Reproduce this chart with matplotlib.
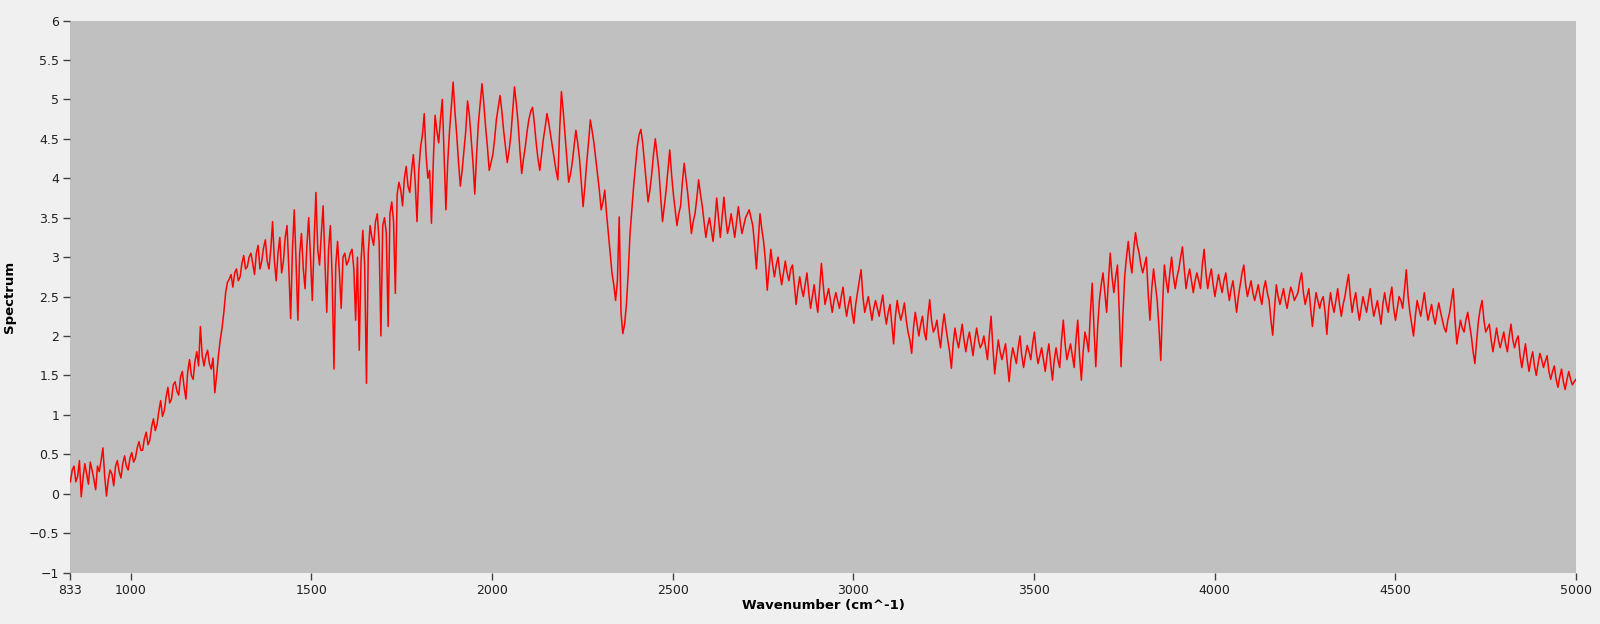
import numpy as np
import matplotlib
matplotlib.use("Agg")
import matplotlib.pyplot as plt

# spectrum, one value about every 10 cm^-1 from 833 to 5000
spectrum = [
    0.15, 0.35, 0.22, -0.04, 0.38, 0.12, 0.30, 0.05, 0.28, 0.58,
    -0.03, 0.30, 0.10, 0.42, 0.20, 0.48, 0.30, 0.52, 0.45, 0.66,
    0.55, 0.78, 0.68, 0.95, 0.88, 1.18, 1.05, 1.35, 1.20, 1.42,
    1.25, 1.55, 1.20, 1.70, 1.45, 1.80, 2.12, 1.62, 1.82, 1.58,
    1.28, 1.75, 2.10, 2.55, 2.72, 2.62, 2.85, 2.75, 3.02, 2.88,
    3.05, 2.78, 3.15, 2.95, 3.22, 2.85, 3.45, 2.70, 3.25, 2.95,
    3.40, 2.22, 3.60, 2.20, 3.30, 2.60, 3.50, 2.45, 3.82, 2.90,
    3.65, 2.30, 3.40, 1.58, 3.20, 2.35, 3.05, 2.95, 3.10, 2.20,
    1.82, 3.34, 1.40, 3.40, 3.15, 3.55, 2.00, 3.50, 2.12, 3.70,
    2.54, 3.95, 3.65, 4.15, 3.82, 4.30, 3.45, 4.40, 4.82, 4.00,
    3.43, 4.80, 4.45, 5.00, 3.60, 4.60, 5.22, 4.55, 3.90, 4.35,
    4.98, 4.50, 3.80, 4.70, 5.20, 4.65, 4.10, 4.30, 4.75, 5.05,
    4.60, 4.20, 4.55, 5.16, 4.70, 4.06, 4.40, 4.75, 4.90, 4.45,
    4.10, 4.50, 4.82, 4.55, 4.25, 3.98, 5.10, 4.55, 3.95, 4.20,
    4.61, 4.25, 3.64, 4.20, 4.74, 4.45, 4.05, 3.60, 3.85, 3.30,
    2.80, 2.45, 3.51, 2.03, 2.40, 3.30, 3.90, 4.40, 4.62, 4.20,
    3.70, 4.05, 4.50, 4.10, 3.45, 3.85, 4.36, 3.80, 3.40, 3.65,
    4.19, 3.80, 3.30, 3.55, 3.98, 3.65, 3.25, 3.50, 3.20, 3.75,
    3.25, 3.76, 3.30, 3.55, 3.25, 3.64, 3.30, 3.50, 3.60, 3.40,
    2.85, 3.55, 3.20, 2.58, 3.10, 2.75, 3.00, 2.65, 2.95, 2.70,
    2.90, 2.40, 2.75, 2.50, 2.80, 2.35, 2.65, 2.30, 2.92, 2.40,
    2.60, 2.30, 2.55, 2.35, 2.62, 2.25, 2.50, 2.16, 2.55, 2.84,
    2.30, 2.50, 2.20, 2.45, 2.25, 2.52, 2.15, 2.40, 1.90, 2.45,
    2.20, 2.42, 2.05, 1.78, 2.30, 2.00, 2.25, 1.95, 2.46, 2.05,
    2.20, 1.85, 2.28, 1.95, 1.59, 2.10, 1.85, 2.15, 1.80, 2.05,
    1.75, 2.10, 1.85, 2.00, 1.70, 2.25, 1.52, 1.95, 1.70, 1.90,
    1.42, 1.85, 1.65, 2.00, 1.60, 1.88, 1.70, 2.05, 1.65, 1.85,
    1.55, 1.90, 1.44, 1.85, 1.60, 2.20, 1.70, 1.90, 1.60, 2.20,
    1.44, 2.05, 1.80, 2.67, 1.61, 2.45, 2.80, 2.30, 3.05, 2.55,
    2.90, 1.61, 2.75, 3.20, 2.80, 3.31, 3.05, 2.80, 3.00, 2.20,
    2.85, 2.45, 1.69, 2.90, 2.55, 3.00, 2.60, 2.85, 3.13, 2.60,
    2.85, 2.55, 2.80, 2.60, 3.10, 2.60, 2.85, 2.50, 2.78, 2.55,
    2.80, 2.45, 2.70, 2.30, 2.65, 2.90, 2.50, 2.70, 2.45, 2.65,
    2.40, 2.70, 2.45, 2.01, 2.65, 2.40, 2.60, 2.35, 2.62, 2.45,
    2.55, 2.80, 2.40, 2.60, 2.12, 2.55, 2.35, 2.50, 2.02, 2.55,
    2.30, 2.60, 2.25, 2.50, 2.78, 2.30, 2.55, 2.20, 2.50, 2.30,
    2.60, 2.25, 2.45, 2.15, 2.55, 2.30, 2.62, 2.20, 2.50, 2.35,
    2.84, 2.30, 2.00, 2.45, 2.25, 2.55, 2.20, 2.40, 2.15, 2.42,
    2.20, 2.05, 2.30, 2.60, 1.90, 2.20, 2.05, 2.30, 2.00, 1.65,
    2.20, 2.45, 2.05, 2.15, 1.80, 2.10, 1.85, 2.05, 1.80, 2.15,
    1.85, 2.00, 1.60, 1.90, 1.55, 1.80, 1.50, 1.78, 1.60, 1.75,
    1.45, 1.62, 1.35, 1.58, 1.32, 1.55, 1.38, 1.45,
]
# readings in between the points above (about 5 cm^-1 further on)
spectrum_mid = [
    0.30, 0.15, 0.42, 0.20, 0.25, 0.40, 0.18, 0.35, 0.42, 0.22,
    0.18, 0.25, 0.35, 0.28, 0.38, 0.35, 0.45, 0.40, 0.58, 0.55,
    0.70, 0.62, 0.85, 0.80, 1.05, 0.98, 1.22, 1.15, 1.38, 1.30,
    1.48, 1.35, 1.55, 1.50, 1.68, 1.62, 1.75, 1.75, 1.65, 1.72,
    1.50, 1.95, 2.30, 2.68, 2.78, 2.80, 2.70, 2.92, 2.85, 3.00,
    2.92, 3.05, 2.85, 3.12, 2.95, 3.10, 2.95, 3.05, 2.80, 3.25,
    2.85, 3.10, 2.95, 3.05, 2.85, 3.15, 3.00, 3.20, 3.10, 3.30,
    2.95, 3.10, 2.75, 2.90, 2.80, 3.00, 2.90, 3.05, 2.85, 3.00,
    2.95, 2.90, 3.05, 3.25, 3.45, 3.20, 3.40, 3.30, 3.55, 3.45,
    3.80, 3.85, 4.00, 3.90, 4.10, 3.95, 4.10, 4.55, 4.30, 4.10,
    4.20, 4.60, 4.75, 4.30, 4.20, 4.90, 4.85, 4.20, 4.10, 4.60,
    4.80, 4.20, 4.30, 4.95, 4.95, 4.40, 4.20, 4.50, 4.90, 4.85,
    4.40, 4.35, 4.85, 4.95, 4.35, 4.25, 4.60, 4.85, 4.70, 4.25,
    4.30, 4.65, 4.70, 4.40, 4.10, 4.60, 4.85, 4.25, 4.05, 4.40,
    4.45, 3.95, 3.90, 4.45, 4.60, 4.25, 3.85, 3.70, 3.55, 3.05,
    2.65, 2.70, 2.30, 2.15, 2.80, 3.60, 4.15, 4.55, 4.45, 3.95,
    3.85, 4.30, 4.30, 3.75, 3.65, 4.10, 4.05, 3.60, 3.55, 3.95,
    4.00, 3.55, 3.45, 3.75, 3.80, 3.45, 3.40, 3.35, 3.45, 3.50,
    3.50, 3.50, 3.40, 3.40, 3.45, 3.45, 3.40, 3.55, 3.50, 3.15,
    3.20, 3.35, 2.95, 2.85, 2.90, 2.90, 2.80, 2.80, 2.80, 2.85,
    2.65, 2.60, 2.60, 2.65, 2.55, 2.50, 2.45, 2.60, 2.65, 2.50,
    2.45, 2.45, 2.45, 2.50, 2.40, 2.40, 2.30, 2.40, 2.70, 2.50,
    2.40, 2.35, 2.35, 2.35, 2.40, 2.30, 2.30, 2.15, 2.25, 2.30,
    2.30, 2.20, 1.95, 2.10, 2.15, 2.15, 2.05, 2.25, 2.20, 2.10,
    2.00, 2.10, 2.10, 1.80, 1.90, 1.95, 2.00, 1.95, 1.95, 1.90,
    1.95, 1.95, 1.90, 1.85, 2.00, 1.85, 1.75, 1.80, 1.80, 1.65,
    1.70, 1.75, 1.85, 1.75, 1.75, 1.80, 1.90, 1.80, 1.75, 1.70,
    1.75, 1.65, 1.70, 1.70, 1.95, 1.90, 1.80, 1.75, 1.95, 1.75,
    1.80, 1.95, 2.30, 2.10, 2.10, 2.65, 2.55, 2.70, 2.75, 2.75,
    2.30, 2.25, 3.00, 2.95, 3.10, 3.15, 2.90, 2.90, 2.55, 2.60,
    2.65, 2.10, 2.40, 2.70, 2.80, 2.75, 2.75, 3.00, 2.85, 2.75,
    2.70, 2.70, 2.70, 2.90, 2.80, 2.75, 2.65, 2.65, 2.65, 2.70,
    2.60, 2.60, 2.50, 2.50, 2.80, 2.65, 2.60, 2.55, 2.55, 2.50,
    2.60, 2.55, 2.20, 2.35, 2.50, 2.50, 2.45, 2.50, 2.55, 2.50,
    2.70, 2.55, 2.50, 2.35, 2.35, 2.45, 2.45, 2.30, 2.35, 2.40,
    2.45, 2.40, 2.40, 2.65, 2.50, 2.45, 2.35, 2.35, 2.40, 2.45,
    2.40, 2.35, 2.30, 2.40, 2.40, 2.50, 2.35, 2.35, 2.45, 2.60,
    2.50, 2.15, 2.25, 2.35, 2.40, 2.35, 2.30, 2.25, 2.30, 2.30,
    2.10, 2.20, 2.45, 2.20, 2.05, 2.10, 2.20, 2.15, 1.80, 1.95,
    2.35, 2.20, 2.10, 1.95, 1.95, 1.95, 1.95, 1.90, 2.00, 1.95,
    1.95, 1.75, 1.75, 1.70, 1.70, 1.62, 1.65, 1.70, 1.68, 1.55,
    1.55, 1.45, 1.48, 1.42, 1.45, 1.45, 1.42,
]
wn_start = 833
wn_end = 5000
xticks = [833, 1000, 1500, 2000, 2500, 3000, 3500, 4000, 4500, 5000]
yticks = [-1, -0.5, 0, 0.5, 1, 1.5, 2, 2.5, 3, 3.5, 4, 4.5, 5, 5.5, 6]
ylabels = ["\u22121", "\u22120.5", "0", "0.5", "1", "1.5", "2", "2.5",
           "3", "3.5", "4", "4.5", "5", "5.5", "6"]

# put the in-between readings between the main ones
values = np.empty(len(spectrum) + len(spectrum_mid))
values[0::2] = spectrum
values[1::2] = spectrum_mid
wavenumber = np.linspace(wn_start, wn_end, len(values))

plt.rcParams['font.family'] = ['Liberation Sans Narrow', 'DejaVu Sans']

fig = plt.figure(figsize=(16, 6.24), dpi=100, facecolor="#f0f0f0")
ax = fig.add_axes([0.044, 0.0825, 0.941, 0.8845])
ax.set_facecolor("#c0c0c0")
ax.plot(wavenumber, values, color="#ff0000", linewidth=1.1)

ax.set_xlim(wn_start, wn_end)
ax.set_ylim(-1, 6)
ax.set_xticks(xticks)
ax.set_xticklabels([str(t) for t in xticks])
ax.set_yticks(yticks)
ax.set_yticklabels(ylabels)
for s in ax.spines.values():
    s.set_visible(False)
ax.tick_params(direction="out", length=5, width=1, color="#404040",
               labelsize=9, labelcolor="#202020", pad=3)

ax.set_xlabel("Wavenumber (cm^-1)", fontsize=9.5, fontweight="bold", labelpad=2)
ax.set_ylabel("Spectrum", fontsize=9.5, fontweight="bold")
ax.yaxis.set_label_coords(-0.036, 0.5)

fig.savefig("out.png", dpi=100, facecolor=fig.get_facecolor())
